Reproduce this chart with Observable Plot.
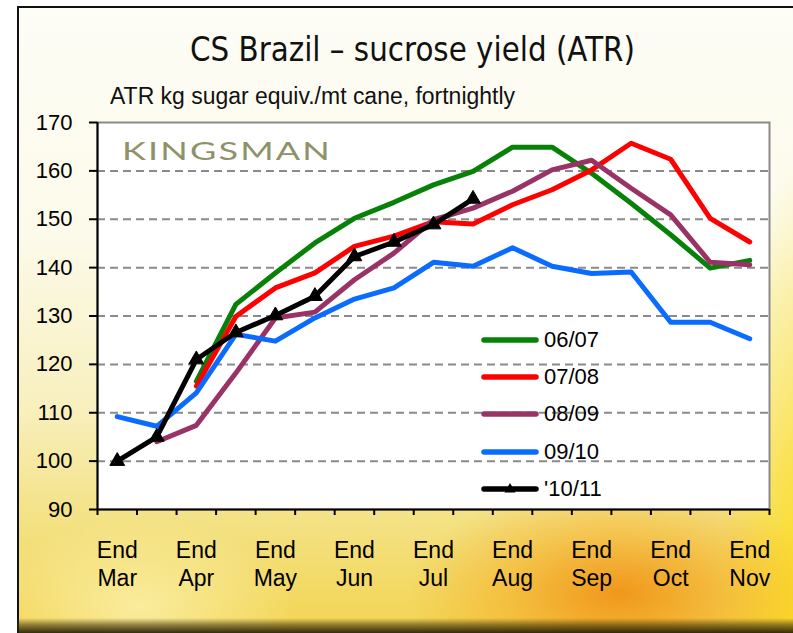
<!DOCTYPE html>
<html>
<head>
<meta charset="utf-8">
<script src="https://cdn.jsdelivr.net/npm/d3@7"></script>
<script src="https://cdn.jsdelivr.net/npm/@observablehq/plot@0.6"></script>
<style>
  html, body { margin: 0; padding: 0; background: #fff; }
  #wrap { position: relative; width: 793px; height: 633px; overflow: hidden; background: #fff; }
  #panel {
    position: absolute; left: 17px; top: 6px; width: 790px; height: 640px;
    border-left: 2px solid #111; border-top: 2px solid #111;
    background:
      radial-gradient(ellipse 210px 110px at 600px 585px, rgba(240,140,15,0.85), rgba(245,165,25,0.45) 55%, rgba(245,185,30,0) 100%),
      radial-gradient(ellipse 90px 450px at 790px 600px, rgba(253,222,30,0.95), rgba(253,225,40,0) 100%),
      radial-gradient(ellipse 160px 90px at 120px 600px, rgba(255,250,200,0.6), rgba(255,250,200,0) 100%),
      linear-gradient(to bottom, #fefdf6 0%, #fcfaea 35%, #f8f0bf 62%, #f3e07e 82%, #f3d24a 100%);
  }
  #shadow {
    position: absolute; left: 17px; top: 618px; width: 790px; height: 15px;
    background: linear-gradient(to bottom, rgba(60,50,10,0) 0%, rgba(60,50,10,0.55) 45%, rgba(30,25,5,0.9) 100%);
  }
  #chart { position: absolute; left: 0; top: 0; }
  .fit { position: absolute; white-space: nowrap; display: inline-block; transform-origin: 0 0; line-height: 1; color: #111; }
  #title { font-family: "DejaVu Sans", Verdana, sans-serif; font-size: 33px; }
  #subtitle { font-family: "Liberation Sans", Arial, sans-serif; font-size: 23px; }
  #brand { font-family: Lato, "Open Sans", sans-serif; font-size: 25px; color: #8e9269; letter-spacing: 1.5px; }
  .legrow { position: absolute; left: 481px; height: 22px; }
  .legrow svg { position: absolute; left: 0; top: 0; }
  .legrow span { position: absolute; left: 63px; top: 0; font-family: "Liberation Sans", Arial, sans-serif; font-size: 22px; line-height: 1; color: #000; white-space: nowrap; }
</style>
</head>
<body>
<div id="wrap">
  <div id="panel"></div>
  <div id="shadow"></div>
  <div id="chart"></div>
  <span class="fit" id="title">CS Brazil – sucrose yield (ATR)</span>
  <span class="fit" id="subtitle">ATR kg sugar equiv./mt cane, fortnightly</span>
  <span class="fit" id="brand">KINGSMAN</span>
  <div id="legend"></div>
</div>
<script>
// ---- Data ----
const periods = ["End Mar","Mid Apr","End Apr","Mid May","End May","Mid Jun","End Jun","Mid Jul","End Jul",
                 "Mid Aug","End Aug","Mid Sep","End Sep","Mid Oct","End Oct","Mid Nov","End Nov"];
const seriesNames = ["06/07", "07/08", "08/09", "09/10", "'10/11"];
const seriesColors = ["#078107", "#ff0000", "#993366", "#0a6cff", "#000000"];
const yTicks = [90, 100, 110, 120, 130, 140, 150, 160, 170];

const s0607 = [null, null, 116.5, 132.4, 138.9, 145.1, 150.2, 153.5, 157.1, 159.9, 164.9, 164.9, 159.5, 153.3, 146.8, 139.9, 141.5];
const s0708 = [null, null, 115.5, 129.9, 135.8, 138.9, 144.4, 146.5, 149.5, 149.0, 153.0, 156.1, 160.2, 165.7, 162.4, 150.2, 145.3];
const s0809 = [null, 104.0, 107.4, 118.2, 129.6, 130.8, 137.5, 143.0, 149.9, 152.3, 155.8, 160.2, 162.2, 156.4, 150.9, 141.1, 140.6];
const s0910 = [109.2, 107.2, 114.1, 126.2, 124.8, 129.6, 133.5, 135.8, 141.1, 140.3, 144.1, 140.3, 138.8, 139.1, 128.7, 128.7, 125.3];
const s1011 = [100.0, 105.0, 121.0, 126.6, 130.1, 134.1, 142.3, 145.3, 148.9, 154.2];
const seriesValues = [s0607, s0708, s0809, s0910, s1011];

// ---- Build table ----
const rows = [];
seriesNames.forEach((name, k) => {
  seriesValues[k].forEach((v, i) => { if (v != null) rows.push({series: name, i, value: v}); });
});
const lastName = seriesNames[seriesNames.length - 1];
const markerRows = rows.filter(d => d.series === lastName);
const boundaries = d3.range(-0.5, periods.length);
const endIdx = periods.map((p, i) => p.startsWith("End") ? i : null).filter(i => i != null);

const chart = Plot.plot({
  width: 793, height: 633,
  marginLeft: 97, marginRight: 24, marginTop: 122, marginBottom: 124,
  style: { background: "transparent", fontFamily: "'Liberation Sans', Arial, sans-serif", color: "#000", overflow: "visible" },
  x: { domain: [-0.5, periods.length - 0.5], axis: null },
  y: { domain: [90, 170], axis: null },
  color: { domain: seriesNames, range: seriesColors },
  marks: [
    Plot.frame({ fill: "white", stroke: "#8a8a8a", strokeWidth: 2 }),
    Plot.ruleY(yTicks.slice(1, -1), { stroke: "#8a8a8a", strokeWidth: 2, strokeDasharray: "8,5" }),
    Plot.line(rows, { x: "i", y: "value", z: "series", stroke: "series", strokeWidth: 5, strokeLinejoin: "round", strokeLinecap: "round" }),
    Plot.dot(markerRows, { x: "i", y: "value", symbol: "triangle", r: 5.5, fill: "#000", stroke: "#000", strokeWidth: 1 }),
    Plot.ruleX([-0.5], { stroke: "#000", strokeWidth: 2 }),
    Plot.ruleY([90], { stroke: "#000", strokeWidth: 2 }),
    Plot.axisY({ ticks: yTicks, tickSize: 8, tickPadding: 17, fontSize: 22, strokeWidth: 2, label: null, tickFormat: d => String(d) }),
    Plot.axisX({ ticks: boundaries, tickSize: 6, tickFormat: () => "", strokeWidth: 2, label: null }),
    Plot.axisX({ ticks: endIdx, tickSize: 0, tickPadding: 29, fontSize: 23, lineHeight: 1.22, label: null,
                 tickFormat: i => periods[i].replace(" ", "\n") })
  ]
});
document.getElementById("chart").appendChild(chart);

// ---- Legend ----
const legend = document.getElementById("legend");
seriesNames.forEach((name, k) => {
  const row = document.createElement("div");
  row.className = "legrow";
  row.style.top = (329 + k * 37.2) + "px";
  const marker = k === seriesNames.length - 1
    ? `<path d="M29,5 L34.5,14.5 L23.5,14.5 Z" fill="#000"/>` : "";
  row.innerHTML = `<svg width="60" height="22"><line x1="3" y1="11" x2="55" y2="11" stroke="${seriesColors[k]}" stroke-width="5.5" stroke-linecap="round"/>${marker}</svg><span>${name}</span>`;
  legend.appendChild(row);
});

// ---- Fit texts ----
function fit(id, left, top, width) {
  const el = document.getElementById(id);
  el.style.left = left + "px";
  el.style.top = top + "px";
  const w = el.getBoundingClientRect().width;
  el.style.transform = `scaleX(${width / w})`;
}
fit("title", 190, 33, 445);
fit("subtitle", 110, 85, 405);
fit("brand", 122, 138, 210);
</script>
</body>
</html>
